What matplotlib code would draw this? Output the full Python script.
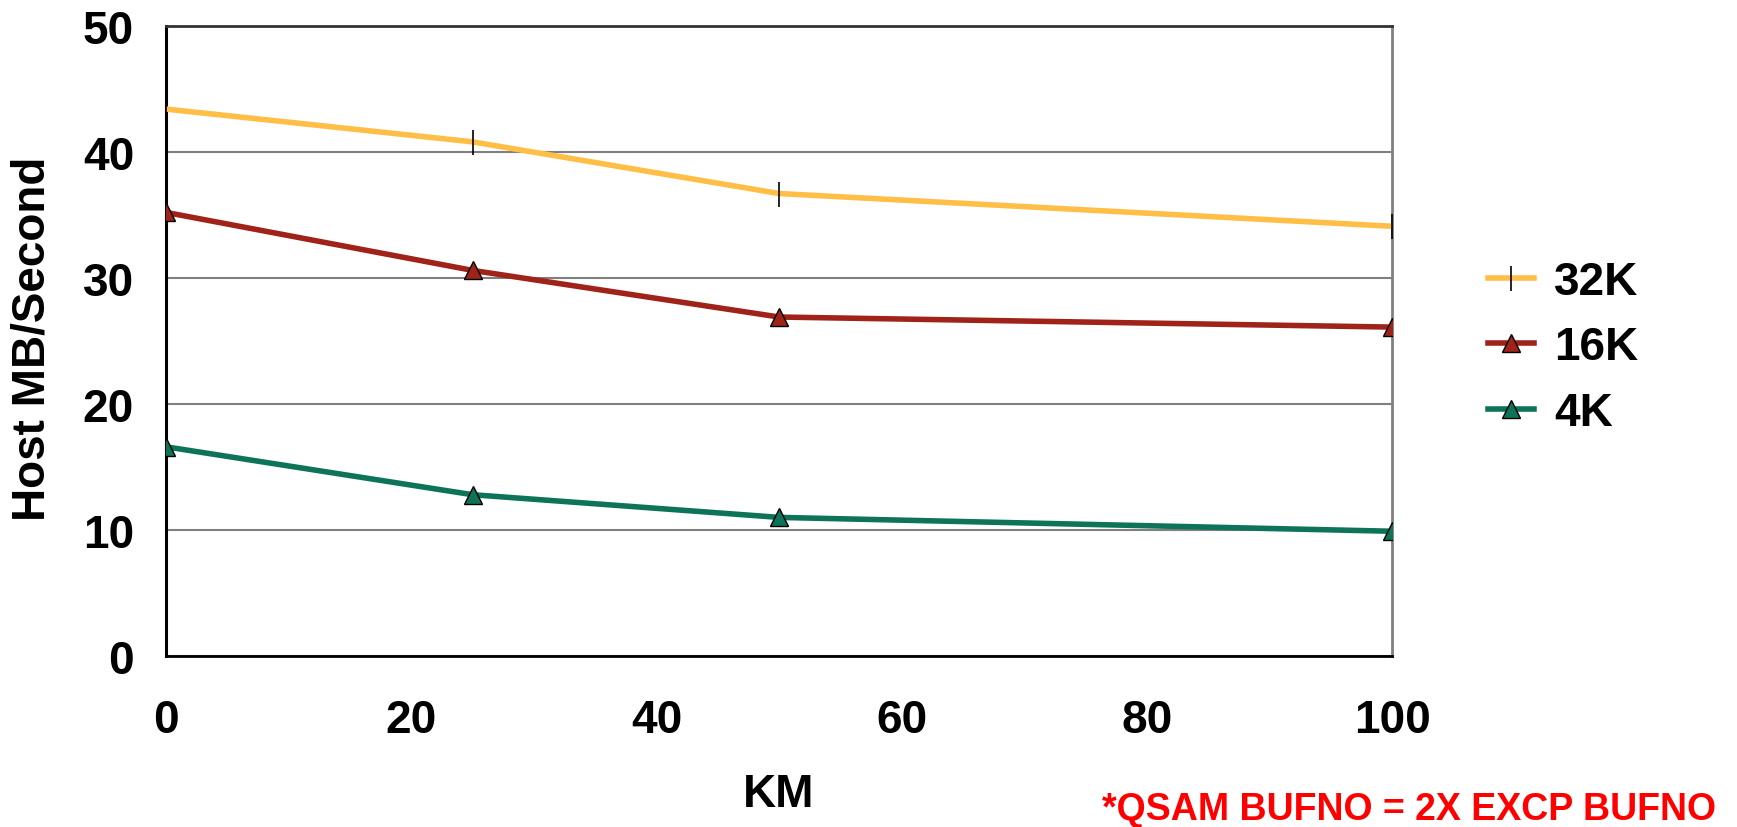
import matplotlib.pyplot as plt

# Data
km = [0, 25, 50, 100]
mb_32k = [43.4, 40.8, 36.7, 34.1]
mb_16k = [35.2, 30.6, 26.9, 26.1]
mb_4k = [16.6, 12.8, 11.0, 9.9]

yticks = [0, 10, 20, 30, 40, 50]
xticks = [0, 20, 40, 60, 80, 100]

plt.rcParams['font.family'] = ['Liberation Sans', 'DejaVu Sans']
plt.rcParams['font.weight'] = 'bold'

fig = plt.figure(figsize=(17.37, 8.28), dpi=100)
ax = fig.add_axes([0.0956, 0.2065, 0.7058, 0.761])

ax.plot(km, mb_32k, color='#FFBF47', lw=4, marker='|', markersize=18,
        markeredgecolor='black', markeredgewidth=1.2, label='32K', zorder=3)
ax.plot(km, mb_16k, color='#A0231A', lw=4, marker='^', markersize=13,
        markerfacecolor='#A0231A', markeredgecolor='black', markeredgewidth=1,
        label='16K', zorder=3)
ax.plot(km, mb_4k, color='#0E7459', lw=4, marker='^', markersize=13,
        markerfacecolor='#0E7459', markeredgecolor='black', markeredgewidth=1,
        label='4K', zorder=3)

ax.set_xlim(0, 100)
ax.set_ylim(0, 50)
ax.set_xticks(xticks)
ax.set_yticks(yticks)
ax.tick_params(axis='both', length=0, labelsize=33)
ax.tick_params(axis='x', pad=30)
ax.tick_params(axis='y', pad=23)
for lab in ax.get_xticklabels() + ax.get_yticklabels():
    lab.set_fontweight('bold')

ax.yaxis.grid(True, color='#808080', lw=1.5)
ax.set_axisbelow(True)

ax.spines['left'].set_color('black')
ax.spines['left'].set_linewidth(2.2)
ax.spines['bottom'].set_color('black')
ax.spines['bottom'].set_linewidth(2)
ax.spines['top'].set_color('#333333')
ax.spines['top'].set_linewidth(2)
ax.spines['right'].set_color('#808080')
ax.spines['right'].set_linewidth(2)

ax.set_xlabel('KM', fontsize=33, fontweight='bold', va='center')
ax.xaxis.set_label_coords(0.5, -0.219)
ax.set_ylabel('Host MB/Second', fontsize=33, fontweight='bold', va='center')
ax.yaxis.set_label_coords(-0.109, 0.505)

leg = fig.legend(loc='upper left', bbox_to_anchor=(0.8566, 0.685), frameon=False,
                 handlelength=1.0, labelspacing=0.47, handletextpad=0.45,
                 borderaxespad=0, borderpad=0,
                 prop={'weight': 'bold', 'size': 33})

fig.text(0.988, 0.022, '*QSAM BUFNO = 2X EXCP BUFNO', color='#FF0000',
         fontsize=27, fontweight='bold', ha='right', va='center')

fig.savefig('out.png', dpi=100)
